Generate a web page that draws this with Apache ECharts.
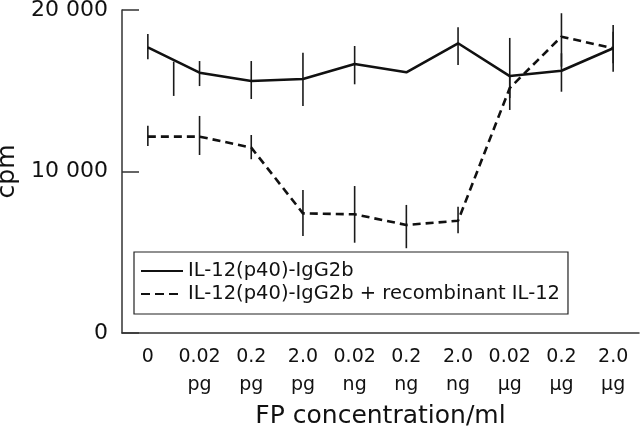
<!DOCTYPE html>
<html>
<head>
<meta charset="utf-8">
<script src="https://cdn.jsdelivr.net/npm/echarts@6/dist/echarts.min.js"></script>
<style>html,body{margin:0;padding:0;background:#fff}#c{width:640px;height:439px}</style>
</head>
<body>
<div id="c"></div>
<script>
// Category labels (concentration + unit)
var concentrations = ['0', '0.02', '0.2', '2.0', '0.02', '0.2', '2.0', '0.02', '0.2', '2.0'];
var units = ['', 'pg', 'pg', 'pg', 'ng', 'ng', 'ng', 'µg', 'µg', 'µg'];
var seriesNames = ['IL-12(p40)-IgG2b', 'IL-12(p40)-IgG2b + recombinant IL-12'];
var yTicks = [0, 10000, 20000];

// Series 1: IL-12(p40)-IgG2b (solid)
var solidValues = [17690, 16120, 15600, 15730, 16660, 16140, 17940, 15910, 16240, 17630];
var solidLow    = [16950, 15290, 14490, 14060, 15400, null, 16600, 14550, 14940, 16180];
var solidHigh   = [18510, 16840, 16840, 17360, 17770, null, 18930, 18270, 17320, 18660];
// A stray error bar in the original, drawn between the first two categories
var solidStrayBetween = [0, 1];
var solidStrayLow = 14680;
var solidStrayHigh = 16800;

// Series 2: IL-12(p40)-IgG2b + recombinant IL-12 (dashed)
var dashedValues = [12160, 12160, 11480, 7410, 7350, 6690, 6950, 15170, 18350, 17630];
var dashedLow    = [11580, 11020, 10760, 6010, 5590, 5250, 6170, 13810, 16490, 16700];
var dashedHigh   = [12840, 13440, 12260, 8860, 9100, 7930, 7820, 15850, 19800, 19070];

var FONT = 'DejaVu Sans';
var categories = concentrations.map(function (c, i) { return units[i] ? c + '\n' + units[i] : c; });

function barData(low, high) {
  var out = [];
  for (var i = 0; i < low.length; i++) {
    if (low[i] != null && high[i] != null) out.push([i, low[i], high[i], 0]);
  }
  return out;
}
var solidBars = barData(solidLow, solidHigh);
solidBars.push([solidStrayBetween[0], solidStrayLow, solidStrayHigh, solidStrayBetween[1] - solidStrayBetween[0]]);
var dashedBars = barData(dashedLow, dashedHigh);

function renderBar(params, api) {
  var idx = api.value(0);
  var span = api.value(3) || 0;
  var band = api.size([1, 0])[0];
  var p1 = api.coord([idx, api.value(1)]);
  var p2 = api.coord([idx, api.value(2)]);
  var x = p1[0] + span * band / 2;
  return {
    type: 'line',
    shape: { x1: x, y1: p1[1], x2: x, y2: p2[1] },
    style: { stroke: '#1a1a1a', lineWidth: 1.6 }
  };
}

var chart = echarts.init(document.getElementById('c'), null, { renderer: 'canvas' });
chart.setOption({
  backgroundColor: '#fff',
  animation: false,
  grid: { left: 122, right: 1, top: 10, bottom: 106, containLabel: false, outerBoundsMode: 'none' },
  legend: {
    left: 134, top: 252,
    orient: 'vertical',
    itemWidth: 42, itemHeight: 14, itemGap: 3,
    padding: [9, 8, 10, 6],
    borderColor: '#222', borderWidth: 1.2, borderRadius: 0,
    backgroundColor: '#fff',
    itemStyle: { color: 'rgba(0,0,0,0)', borderWidth: 0, opacity: 0 },
    textStyle: { fontFamily: FONT, fontSize: 19.5, color: '#111' },
    data: [
      { name: seriesNames[0] },
      { name: seriesNames[1], lineStyle: { type: [9, 5] } }
    ]
  },
  xAxis: {
    type: 'category',
    data: categories,
    boundaryGap: true,
    name: 'FP concentration/ml',
    nameLocation: 'middle',
    nameGap: 62,
    nameTextStyle: { fontFamily: FONT, fontSize: 25, color: '#111' },
    axisLine: { lineStyle: { color: '#333', width: 1.5 } },
    axisTick: { inside: true, length: 15, lineStyle: { color: '#333', width: 1.5 } },
    axisLabel: { fontFamily: FONT, fontSize: 19, color: '#111', lineHeight: 28, margin: 10, interval: 0 },
    splitLine: { show: false }
  },
  yAxis: {
    type: 'value',
    min: yTicks[0], max: yTicks[yTicks.length - 1], interval: yTicks[1] - yTicks[0],
    name: 'cpm',
    nameLocation: 'middle',
    nameRotate: 90,
    nameGap: 94,
    nameTextStyle: { fontFamily: FONT, fontSize: 25, color: '#111' },
    axisLine: { show: true, lineStyle: { color: '#333', width: 1.5 } },
    axisTick: { show: true, inside: true, length: 17, lineStyle: { color: '#333', width: 1.5 } },
    axisLabel: {
      fontFamily: FONT, fontSize: 22, color: '#111', margin: 14,
      formatter: function (v) { return String(v).replace(/\B(?=(\d{3})+(?!\d))/g, ' '); }
    },
    splitLine: { show: false }
  },
  series: [
    {
      name: seriesNames[0], type: 'line', data: solidValues,
      symbol: 'none', lineStyle: { color: '#111', width: 2.6, type: 'solid' },
      itemStyle: { color: '#111' }, z: 3
    },
    {
      name: seriesNames[1], type: 'line', data: dashedValues,
      symbol: 'none', lineStyle: { color: '#111', width: 2.6, type: [8, 5] },
      itemStyle: { color: '#111' }, z: 3
    },
    { type: 'custom', renderItem: renderBar, data: solidBars, encode: { x: 0, y: [1, 2] }, z: 2, silent: true },
    { type: 'custom', renderItem: renderBar, data: dashedBars, encode: { x: 0, y: [1, 2] }, z: 2, silent: true }
  ]
});
</script>
</body>
</html>
